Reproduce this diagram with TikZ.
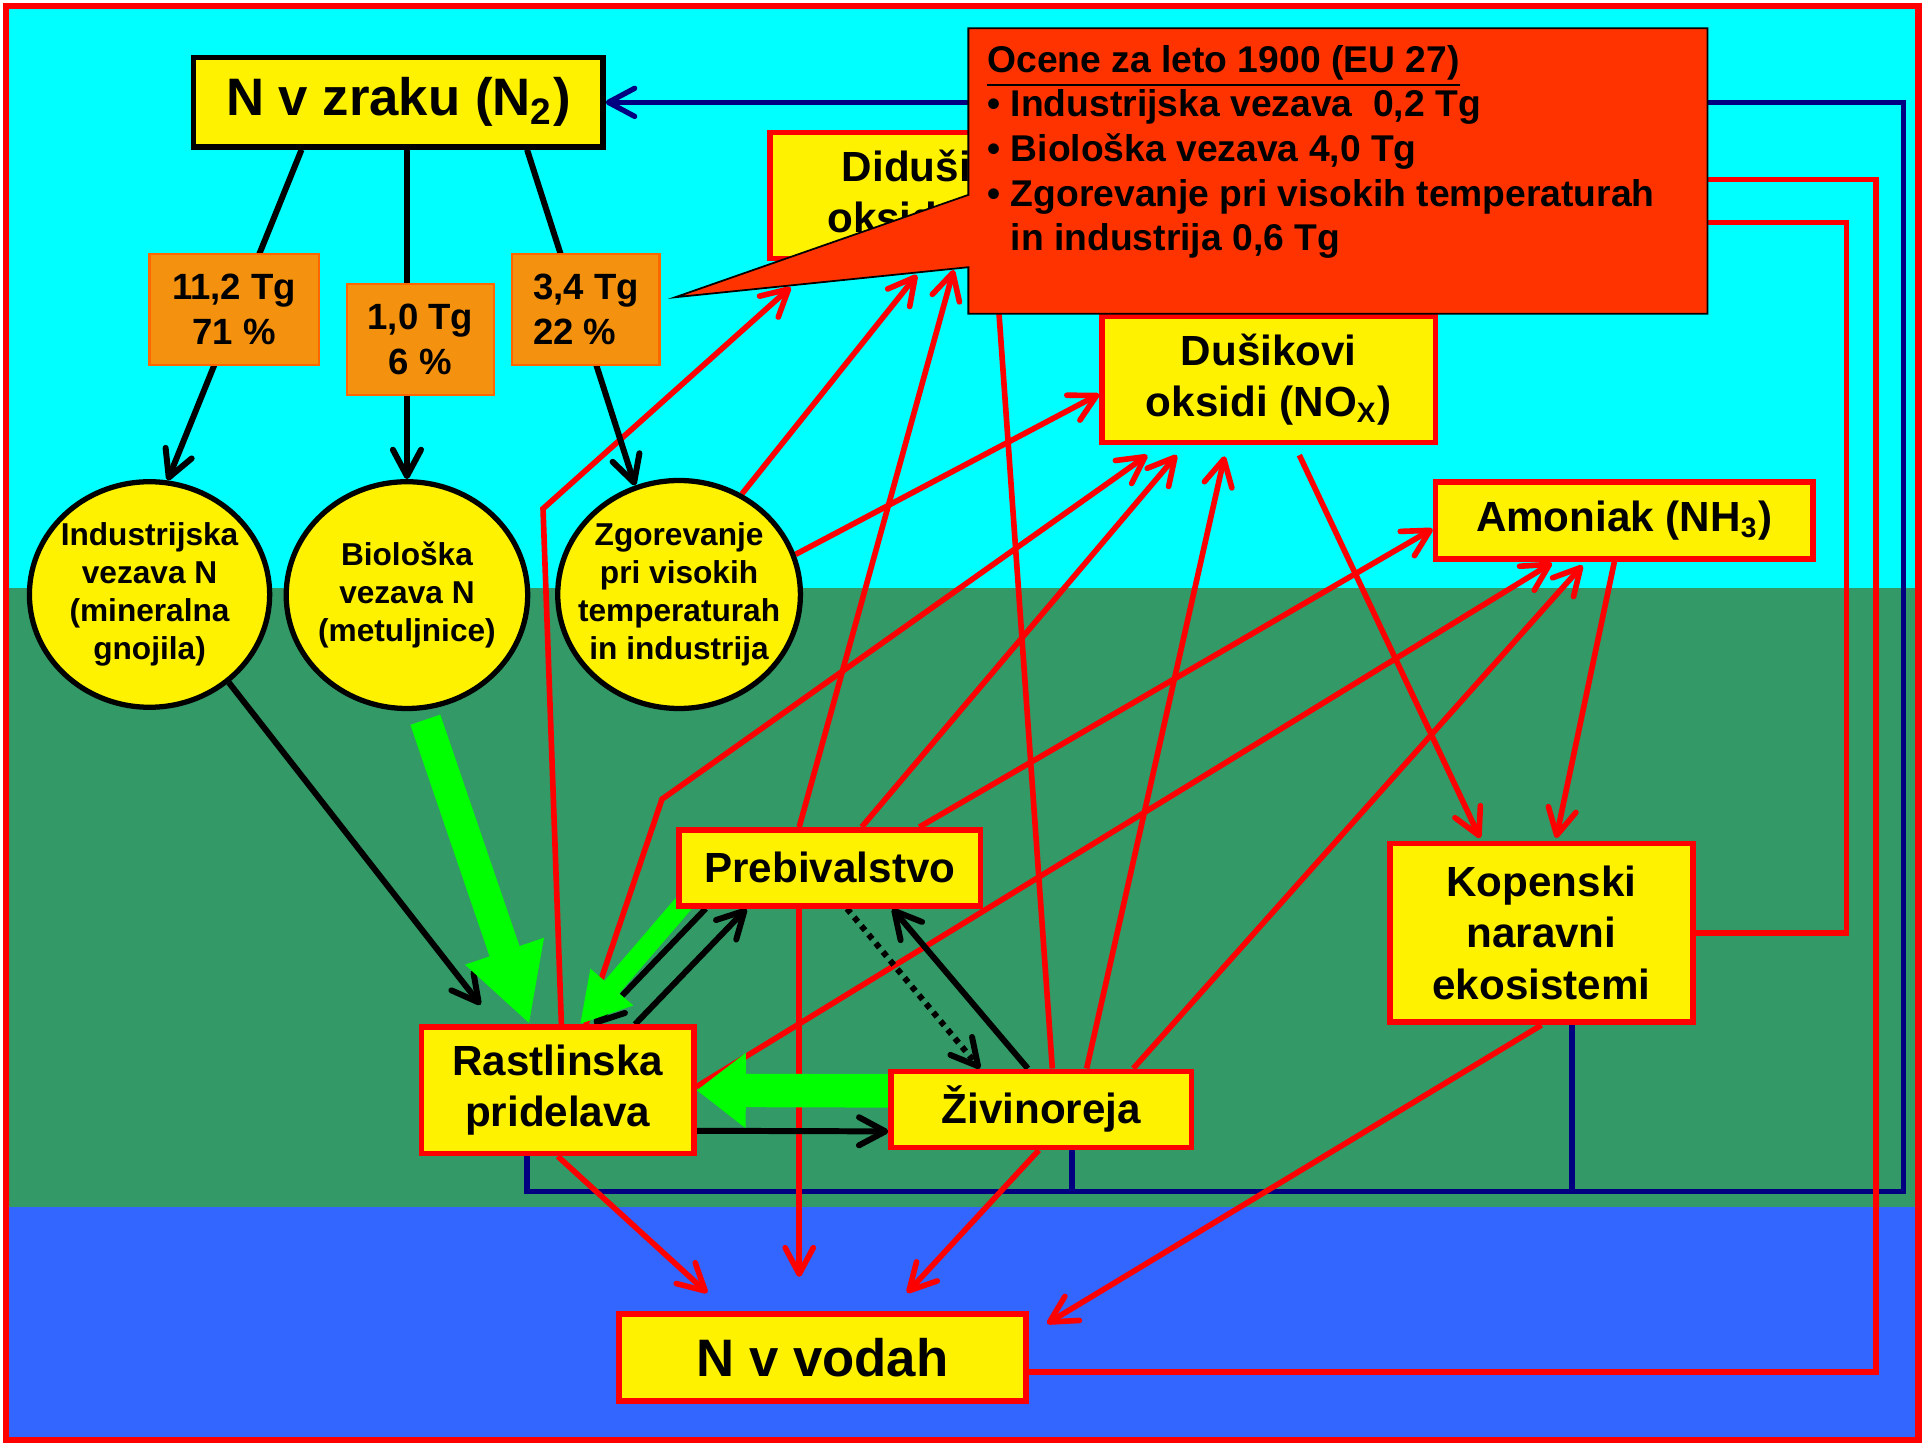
\documentclass[tikz,border=0pt]{standalone}
\usepackage{fontspec}
\setmainfont{Liberation Sans}
\usetikzlibrary{shapes.geometric,arrows.meta}
\definecolor{sky}{RGB}{0,255,255}
\definecolor{soil}{RGB}{51,153,102}
\definecolor{water}{RGB}{51,102,255}
\definecolor{amountfill}{RGB}{244,146,16}
\definecolor{amountline}{RGB}{255,102,0}
\definecolor{notefill}{RGB}{255,51,0}
\definecolor{bright}{RGB}{0,255,0}
\definecolor{deepblue}{RGB}{0,0,128}
\newlength\unitpx
\setlength\unitpx{0.12258mm}
\pgfdeclarelayer{back}
\pgfdeclarelayer{lines}
\pgfdeclarelayer{front}
\pgfsetlayers{back,lines,main,front}

\begin{document}
\begin{tikzpicture}[x=0.12258mm, y=-0.12258mm,
  box/.style = {draw=red, line width=1.6pt, fill=yellow, inner sep=0pt, align=center, font=\bfseries\fontsize{12}{14.6}\selectfont},
  bigbox/.style = {box, font=\bfseries\fontsize{15}{18}\selectfont},
  amount/.style = {draw=amountline, line width=0.6pt, fill=amountfill, inner sep=0pt, font=\bfseries\fontsize{10.4}{12.6}\selectfont},
  source/.style = {ellipse, draw, line width=1.5pt, fill=yellow, inner xsep=-6pt, inner ysep=0pt, align=center, font=\bfseries\fontsize{9}{10.8}\selectfont},
  headed/.style = {-{Straight Barb[length=7.5pt,width=8pt,round]}},
  flowline/.style = {headed, draw=red, line width=1.6pt},
  blackline/.style = {headed, draw=black, line width=1.7pt},
  navyline/.style = {draw=deepblue, line width=1.5pt},
  fatgreen/.style = {draw=bright}]
\useasboundingbox (0,0) rectangle (1568,1180);

\begin{pgfonlayer}{back}
\fill[white] (0,0) rectangle (1568,1180);
\fill[sky] (5,5) rectangle (1565,480);
\fill[soil] (5,480) rectangle (1565,985);
\fill[water] (5,985) rectangle (1565,1175);
\draw[red, line width=1.8pt] (5,5) rectangle (1565,1175);
\end{pgfonlayer}

\node[bigbox, draw=black, line width=1.5pt, minimum width=334\unitpx, minimum height=73\unitpx] (air) at (325,83.5) {N v zraku (N\textsubscript{2})};
\node[amount, minimum width=138\unitpx, minimum height=91\unitpx, align=center] (ind) at (191,252.5) {11,2 Tg\\71 \%};
\node[amount, minimum width=120\unitpx, minimum height=90\unitpx, align=center] (bio) at (343,277) {1,0 Tg\\6 \%};
\node[amount, minimum width=120\unitpx, minimum height=91\unitpx, align=left] (com) at (478,252.5) {3,4 Tg\\22 \%};
\node[source, minimum width=196\unitpx, minimum height=184\unitpx] (e1) at (122,485) {Industrijska\\vezava N\\(mineralna\\gnojila)};
\node[source, minimum width=197\unitpx, minimum height=185\unitpx] (e2) at (332,485.5) {Biološka\\vezava N\\(metuljnice)};
\node[source, minimum width=198\unitpx, minimum height=186\unitpx] (e3) at (554,485) {Zgorevanje\\pri visokih\\temperaturah\\in industrija};
\node[box, minimum width=282\unitpx, minimum height=103\unitpx] (did) at (769,159.5) {Didušikov\\oksid (N\textsubscript{2}O)};
\node[box, minimum width=272\unitpx, minimum height=103\unitpx] (dus) at (1035,309.5) {Dušikovi\\oksidi (NO\textsubscript{X})};
\node[box, minimum width=308\unitpx, minimum height=63\unitpx] (amo) at (1325,424.5) {Amoniak (NH\textsubscript{3})};
\node[box, minimum width=247\unitpx, minimum height=146\unitpx] (kop) at (1257.5,761) {Kopenski\\naravni\\ekosistemi};
\node[box, minimum width=246\unitpx, minimum height=62\unitpx] (preb) at (677,708) {Prebivalstvo};
\node[box, minimum width=222\unitpx, minimum height=103\unitpx] (rast) at (455,889.5) {Rastlinska\\pridelava};
\node[box, minimum width=245\unitpx, minimum height=62\unitpx] (ziv) at (849.5,905) {Živinoreja};
\node[bigbox, minimum width=332\unitpx, minimum height=71\unitpx] (vod) at (671,1107.5) {N v vodah};

\begin{pgfonlayer}{lines}
\draw[navyline, headed] ([xshift=-25\unitpx]rast.south) |- (1553,972) |- (air.east);
\draw[navyline] ([xshift=25\unitpx]ziv.south) -- ++(0,36);
\draw[navyline] ([xshift=25\unitpx]kop.south) -- ++(0,138);

\draw[flowline] ([xshift=3\unitpx]rast.north) -- (443,415) -- ([xshift=-124\unitpx,yshift=-21\unitpx]did.south);
\draw[flowline] ([xshift=23\unitpx]rast.north) -- (540,652) -- ([xshift=-99\unitpx,yshift=-8\unitpx]dus.south);
\draw[flowline] ([xshift=-25\unitpx]preb.north) -- ([xshift=9\unitpx,yshift=-7\unitpx]did.south);
\draw[flowline] ([xshift=26\unitpx]preb.north) -- ([xshift=-75\unitpx,yshift=-8\unitpx]dus.south);
\draw[flowline] ([xshift=73\unitpx]preb.north) -- ([yshift=-7\unitpx]amo.west);
\draw[flowline] (e3.58) -- ([xshift=-21\unitpx,yshift=-11\unitpx]did.south);
\draw[flowline] (e3.19) -- ([yshift=-12\unitpx]dus.west);
\draw[flowline] ([xshift=9\unitpx]ziv.north) -- ([xshift=43\unitpx]did.south);
\draw[flowline] ([xshift=37\unitpx]ziv.north) -- ([xshift=-36\unitpx,yshift=-9\unitpx]dus.south);
\draw[flowline] ([xshift=75\unitpx]ziv.north) -- ([xshift=-34\unitpx,yshift=-3\unitpx]amo.south);
\draw[flowline] ([yshift=3\unitpx]rast.east) -- ([xshift=-59\unitpx,yshift=-1\unitpx]amo.south);
\draw[flowline] ([xshift=25\unitpx,yshift=-8\unitpx]dus.south) -- ([xshift=-50\unitpx,yshift=2\unitpx]kop.north);
\draw[flowline] ([xshift=-8\unitpx]amo.south) -- ([xshift=12\unitpx,yshift=2\unitpx]kop.north);
\draw[flowline] (kop.east) -- ++(123,0) |- ([yshift=-22\unitpx]did.east);
\draw[flowline] ([yshift=-12\unitpx]vod.east) -- ++(691,0) |- ([yshift=13\unitpx]did.east);
\draw[flowline] (rast.south) -- ([xshift=-94\unitpx,yshift=15\unitpx]vod.north);
\draw[flowline] ([xshift=-25\unitpx]preb.south) -- ([xshift=-19\unitpx,yshift=28\unitpx]vod.north);
\draw[flowline] ([xshift=-2\unitpx]ziv.south) -- ([xshift=69\unitpx,yshift=15\unitpx]vod.north);
\draw[flowline] (kop.south) -- ([xshift=15\unitpx,yshift=-10\unitpx]vod.north east);

\draw[blackline] ([xshift=-79\unitpx]air.south) -- (e1.81);
\draw[blackline] ([xshift=7\unitpx]air.south) -- (e2.north);
\draw[blackline] ([xshift=105\unitpx]air.south) -- (e3.112);
\draw[blackline] (e1.-48) -- ([xshift=-63\unitpx,yshift=16\unitpx]rast.north);
\draw[blackline] ([xshift=24\unitpx]preb.south west) -- ([xshift=30\unitpx]rast.north);
\draw[blackline] ([xshift=63\unitpx]rast.north) -- ([xshift=-68\unitpx]preb.south);
\draw[blackline, dash pattern=on 1.6pt off 1.6pt] ([xshift=14\unitpx]preb.south) -- ([xshift=-50\unitpx]ziv.north);
\draw[blackline] ([xshift=-11\unitpx]ziv.north) -- ([xshift=51\unitpx]preb.south);
\draw[blackline] ([yshift=-33\unitpx]rast.east) -- ([yshift=-18\unitpx]ziv.west);

\draw[fatgreen, line width=9pt, -{Triangle[length=22pt,width=22pt]}] ([xshift=15\unitpx,yshift=-7\unitpx]e2.south) -- ([xshift=-23\unitpx]rast.north);
\draw[fatgreen, line width=5.5pt, -{Triangle[length=14pt,width=15pt]}] ([xshift=11\unitpx,yshift=10\unitpx]preb.south west) -- ([xshift=18\unitpx]rast.north);
\draw[fatgreen, line width=9.5pt, -{Triangle[length=14pt,width=20.5pt]}] ([yshift=15\unitpx]ziv.west) -- (rast.east);
\end{pgfonlayer}

\begin{pgfonlayer}{front}
\draw[fill=notefill, line width=0.5pt] (790,23) -- (1393,23) -- (1393,256) -- (790,256) -- (790,218) -- ([xshift=12\unitpx,yshift=10\unitpx]com.east) -- (790,159) -- cycle;
\node[anchor=west, align=left, inner sep=0pt, font=\bfseries\fontsize{10.6}{12.7}\selectfont] (note) at (805,124) {\underline{Ocene za leto 1900 (EU 27)}\\• Industrijska vezava~ 0,2 Tg\\• Biološka vezava 4,0 Tg\\• Zgorevanje pri visokih temperaturah\\\phantom{• }in industrija 0,6 Tg};
\end{pgfonlayer}
\end{tikzpicture}
\end{document}
